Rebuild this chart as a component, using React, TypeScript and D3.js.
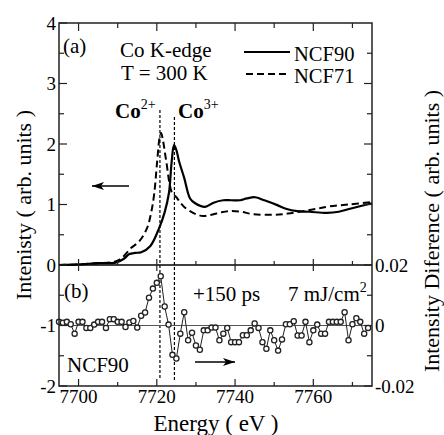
import React from 'react'
import * as d3 from 'd3'

const W = 444
const H = 435
const margin = { top: 23, right: 72, bottom: 49, left: 59 }

// energy axis
const energyDomain = [7695, 7775]
const energyMajor = [7700, 7720, 7740, 7760]
const energyMinor = [7710, 7730, 7750, 7770]

// left axis (XANES intensity)
const leftTicks = [-2, -1, 0, 1, 2, 3, 4]
const leftMinor = [-1.5, -0.5, 0.5, 1.5, 2.5, 3.5]

// right axis (difference)
const rightTicks = [-0.02, 0, 0.02]
const rightMinor = [-0.01, 0.01]

// XANES spectra
const ncf90E = [7695, 7700, 7705, 7709.5, 7711.5, 7713, 7714.5, 7716, 7718.3, 7720.6, 7722, 7723.1, 7723.8, 7724.4, 7725, 7725.7, 7727, 7728.5, 7729.8, 7732.3, 7734.5, 7737, 7739, 7741.3, 7743, 7745.1, 7747.5, 7750.8, 7753, 7755.9, 7759, 7763.5, 7766.5, 7769.4, 7775]
const ncf90 = [0, 0.01, 0.03, 0.04, 0.1, 0.18, 0.2, 0.21, 0.31, 0.61, 0.87, 1.19, 1.71, 1.98, 1.9, 1.71, 1.44, 1.1, 1.02, 0.96, 1.03, 1.07, 1.07, 1.07, 1.1, 1.12, 1.07, 0.99, 0.93, 0.89, 0.88, 0.86, 0.88, 0.93, 1.02]

const ncf71E = [7695, 7700, 7705, 7709, 7710.5, 7711.6, 7713.4, 7715.5, 7717.5, 7718.5, 7719.3, 7720.1, 7720.7, 7721.1, 7721.6, 7722.4, 7723.9, 7725, 7726, 7727, 7728.5, 7730, 7731.8, 7734, 7736.5, 7738.7, 7741.5, 7744.6, 7749.7, 7753.5, 7757.4, 7761, 7764.3, 7769, 7775]
const ncf71 = [0, 0.01, 0.03, 0.05, 0.09, 0.15, 0.28, 0.39, 0.61, 0.85, 1.16, 1.72, 2.1, 2.18, 2.05, 1.72, 1.19, 1.12, 1.03, 0.96, 0.89, 0.84, 0.81, 0.83, 0.87, 0.89, 0.88, 0.84, 0.83, 0.85, 0.89, 0.93, 0.97, 1.0, 1.04]

// edge positions
const edgeE = [7720.8, 7724.5]

// time-resolved difference, +150 ps
const diffE = [
  7695, 7696, 7697, 7698, 7699, 7700, 7701, 7702, 7703, 7704,
  7705, 7706, 7707, 7708, 7709, 7710, 7711, 7712, 7713, 7714,
  7715, 7716, 7717, 7718, 7719, 7720, 7721, 7722, 7723, 7724,
  7725, 7726, 7727, 7728, 7729, 7730, 7731, 7732, 7733, 7734,
  7735, 7736, 7737, 7738, 7739, 7740, 7741, 7742, 7743, 7744,
  7745, 7746, 7747, 7748, 7749, 7750, 7751, 7752, 7753, 7754,
  7755, 7756, 7757, 7758, 7759, 7760, 7761, 7762, 7763, 7764,
  7765, 7766, 7767, 7768, 7769, 7770, 7771, 7772, 7773, 7774,
]
const diff = [
  0.0012, 0.0009, 0.0012, 0.0004, -0.0027, 0.0012, 0.0012, -0.0008, -0.0008, 0.0003,
  0.0012, 0.0012, -0.0008, 0.0021, 0.0021, 0.0012, 0.0012, -0.0005, 0.001, 0.0015,
  -0.0007, 0.0032, 0.0043, 0.0092, 0.0122, 0.0141, 0.0163, 0.0063, 0.0003, -0.0097,
  -0.0109, -0.0027, 0.0044, -0.0049, -0.0024, -0.0066, -0.008, -0.0016, -0.0016, -0.0007,
  -0.0007, -0.0049, -0.0027, -0.0008, -0.0055, -0.0055, -0.0055, -0.0032, -0.0032, -0.0016,
  0.0007, -0.0008, -0.0055, -0.0077, -0.0016, -0.0049, -0.0083, -0.0046, 0.0004, 0.0004,
  0.0014, -0.0033, -0.0033, 0.0012, -0.0055, -0.0016, 0.0003, -0.0027, -0.0027, 0.0012,
  0.0012, 0.0012, 0.0012, 0.0044, -0.0049, 0.0004, 0.0024, 0.0012, -0.0027, -0.0008,
]
const diffErr = 0.0007

const font = '"Liberation Serif", "Times New Roman", Times, serif'

export default function App () {
  const x0 = margin.left
  const x1 = W - margin.right
  const y0 = margin.top
  const y1 = H - margin.bottom

  const x = d3.scaleLinear().domain(energyDomain).range([x0, x1])
  const yL = d3.scaleLinear().domain([-2, 4]).range([y1, y0])
  const yR = d3.scaleLinear().domain([-0.02, 0.02]).range([y1, yL(0)])
  const yDiv = yL(0)

  const line = d3.line<number>()
    .curve(d3.curveCatmullRom.alpha(0.5))
  const path90 = line(ncf90E.map((e, i) => [x(e), yL(ncf90[i])] as any))
  const path71 = line(ncf71E.map((e, i) => [x(e), yL(ncf71[i])] as any))
  const diffPath = d3.line<number>()(diffE.map((e, i) => [x(e), yR(diff[i])] as any))

  const axisColor = '#222'
  const dataColor = '#222'

  return (
    <svg width={W} height={H} style={{ position: 'absolute', left: 0, top: 0, background: '#fff', fontFamily: font }}>
      <defs>
        <marker id="ah" viewBox="0 0 12 8" refX="12" refY="4" markerWidth="12" markerHeight="8"
          markerUnits="userSpaceOnUse" orient="auto">
          <path d="M12,4 L0,0 L3,4 L0,8 Z" fill="#000" />
        </marker>
      </defs>

      {/* curves */}
      <path d={path71 || ''} fill="none" stroke="#000" strokeWidth={2} strokeDasharray="7,4" />
      <path d={path90 || ''} fill="none" stroke="#000" strokeWidth={2.2} />

      {/* edge markers */}
      {edgeE.map((e, i) => (
        <line key={'edge' + i} x1={x(e)} x2={x(e)} y1={i === 0 ? 110 : 117} y2={y1 - 6}
          stroke="#000" strokeWidth={1.2} strokeDasharray="3,2" />
      ))}

      {/* zero line in difference panel */}
      <line x1={x0} x2={x1} y1={yR(0)} y2={yR(0)} stroke="#555" strokeWidth={1} />

      {/* difference data */}
      <path d={diffPath || ''} fill="none" stroke={dataColor} strokeWidth={1} />
      {diffE.map((e, i) => (
        <g key={'d' + i}>
          <line x1={x(e)} x2={x(e)} y1={yR(diff[i] - diffErr)} y2={yR(diff[i] + diffErr)} stroke={dataColor} strokeWidth={1} />
          <line x1={x(e) - 1.8} x2={x(e) + 1.8} y1={yR(diff[i] - diffErr)} y2={yR(diff[i] - diffErr)} stroke={dataColor} strokeWidth={1} />
          <line x1={x(e) - 1.8} x2={x(e) + 1.8} y1={yR(diff[i] + diffErr)} y2={yR(diff[i] + diffErr)} stroke={dataColor} strokeWidth={1} />
          <circle cx={x(e)} cy={yR(diff[i])} r={2.6} fill="#fff" stroke={dataColor} strokeWidth={1.3} />
        </g>
      ))}

      {/* frame */}
      <rect x={x0} y={y0} width={x1 - x0} height={y1 - y0} fill="none" stroke={axisColor} strokeWidth={1.5} />
      <line x1={x0} x2={x1} y1={yDiv} y2={yDiv} stroke="#000" strokeWidth={1.5} />

      {/* energy ticks */}
      {energyMajor.map(t => (
        <g key={'em' + t}>
          <line x1={x(t)} x2={x(t)} y1={y0} y2={y0 + 8} stroke={axisColor} strokeWidth={1.2} />
          <line x1={x(t)} x2={x(t)} y1={yDiv - 6} y2={yDiv + 6} stroke={axisColor} strokeWidth={1.2} />
          <line x1={x(t)} x2={x(t)} y1={y1} y2={y1 - 7} stroke={axisColor} strokeWidth={1.2} />
          <text x={x(t)} y={y1 + 17} fontSize={19} textAnchor="middle">{t}</text>
        </g>
      ))}
      {energyMinor.map(t => (
        <g key={'en' + t}>
          <line x1={x(t)} x2={x(t)} y1={y0} y2={y0 + 5} stroke={axisColor} strokeWidth={1.2} />
          <line x1={x(t)} x2={x(t)} y1={yDiv - 4} y2={yDiv} stroke={axisColor} strokeWidth={1.2} />
          <line x1={x(t)} x2={x(t)} y1={y1} y2={y1 - 4} stroke={axisColor} strokeWidth={1.2} />
        </g>
      ))}

      {/* left axis */}
      {leftTicks.map(t => (
        <g key={'l' + t}>
          <line x1={x0} x2={x0 + 8} y1={yL(t)} y2={yL(t)} stroke={axisColor} strokeWidth={1.2} />
          <text x={x0 - 3} y={yL(t)} dy="0.35em" fontSize={19} textAnchor="end">{t}</text>
        </g>
      ))}
      {leftMinor.map(t => (
        <line key={'lm' + t} x1={x0} x2={x0 + 5} y1={yL(t)} y2={yL(t)} stroke={axisColor} strokeWidth={1.2} />
      ))}

      {/* right axis: top panel ticks */}
      {leftTicks.concat(leftMinor).filter(t => t > 0 && t < 4).map(t => (
        <line key={'rt' + t} x1={x1} x2={x1 - (Number.isInteger(t) ? 8 : 5)} y1={yL(t)} y2={yL(t)}
          stroke={axisColor} strokeWidth={1.2} />
      ))}
      {/* right axis: difference */}
      {rightTicks.map(t => (
        <g key={'r' + t}>
          <line x1={x1} x2={x1 - 8} y1={yR(t)} y2={yR(t)} stroke={axisColor} strokeWidth={1.2} />
          <text x={x1 + 3} y={yR(t)} dy="0.35em" fontSize={19}>{t === 0 ? '0' : t.toFixed(2)}</text>
        </g>
      ))}
      {rightMinor.map(t => (
        <line key={'rm' + t} x1={x1} x2={x1 - 5} y1={yR(t)} y2={yR(t)} stroke={axisColor} strokeWidth={1.2} />
      ))}

      {/* axis titles */}
      <text transform="translate(31,205) rotate(-90)" fontSize={22} textAnchor="middle">Intenisty ( arb. units )</text>
      <text transform="translate(439,231) rotate(-90)" fontSize={22} textAnchor="middle">Intensity Diference ( arb. units )</text>
      <text x={216} y={431} fontSize={23} textAnchor="middle">Energy ( eV )</text>

      {/* panel (a) annotations */}
      <text x={63} y={53} fontSize={21}>(a)</text>
      <text x={120} y={57} fontSize={21}>Co K-edge</text>
      <text x={121} y={80} fontSize={21}>T = 300 K</text>
      <line x1={244} x2={290} y1={52} y2={52} stroke="#000" strokeWidth={2.2} />
      <text x={294} y={61} fontSize={20.5}>NCF90</text>
      <line x1={246} x2={290} y1={74} y2={74} stroke="#000" strokeWidth={2} strokeDasharray="7,4" />
      <text x={294} y={83} fontSize={20.5}>NCF71</text>
      <text x={115} y={118} fontSize={21} fontWeight="bold">Co<tspan dy={-9} fontSize={14} fontWeight="normal">2+</tspan></text>
      <text x={178} y={118} fontSize={21} fontWeight="bold">Co<tspan dy={-9} fontSize={14} fontWeight="normal">3+</tspan></text>
      <line x1={129} x2={92} y1={186} y2={186} stroke="#000" strokeWidth={1.5} markerEnd="url(#ah)" />

      {/* panel (b) annotations */}
      <text x={64} y={298} fontSize={21}>(b)</text>
      <text x={193} y={301} fontSize={21}>+150 ps</text>
      <text x={288} y={301} fontSize={21}>7 mJ/cm<tspan dy={-9} fontSize={14}>2</tspan></text>
      <text x={67} y={372} fontSize={21}>NCF90</text>
      <line x1={195} x2={235} y1={362} y2={362} stroke="#000" strokeWidth={1.5} markerEnd="url(#ah)" />
    </svg>
  )
}
